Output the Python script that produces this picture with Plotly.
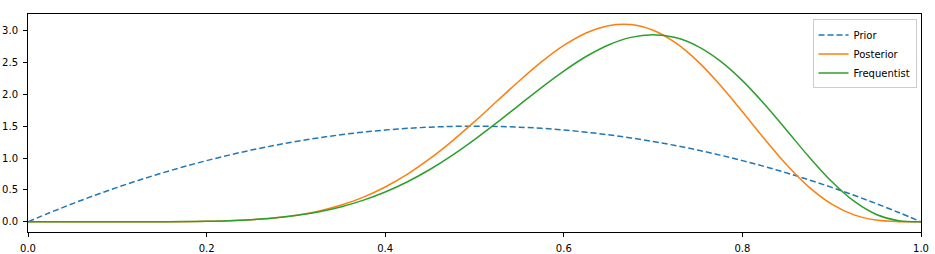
import plotly.graph_objects as go

x = [0.0, 0.025, 0.05, 0.075, 0.1, 0.125, 0.15, 0.175, 0.2, 0.225, 0.25, 0.275, 0.3, 0.325,
     0.35, 0.375, 0.4, 0.425, 0.45, 0.475, 0.5, 0.525, 0.55, 0.575, 0.6, 0.625, 0.65, 0.675,
     0.7, 0.725, 0.75, 0.775, 0.8, 0.825, 0.85, 0.875, 0.9, 0.925, 0.95, 0.975, 1.0]

prior = [0.0, 0.14625, 0.285, 0.41625, 0.54, 0.65625, 0.765, 0.86625, 0.96, 1.04625, 1.125,
         1.19625, 1.26, 1.31625, 1.365, 1.40625, 1.44, 1.46625, 1.485, 1.49625, 1.5,
         1.49625, 1.485, 1.46625, 1.44, 1.40625, 1.365, 1.31625, 1.26, 1.19625, 1.125,
         1.04625, 0.96, 0.86625, 0.765, 0.65625, 0.54, 0.41625, 0.285, 0.14625, 0.0]

posterior = [0.0, 0.0, 0.0, 0.0, 0.00004, 0.0002, 0.0009, 0.0026, 0.0068, 0.0153, 0.0311,
             0.0582, 0.1014, 0.1663, 0.2587, 0.3840, 0.5466, 0.7487, 0.9902, 1.2669, 1.5710,
             1.8906, 2.2095, 2.5086, 2.7669, 2.9629, 3.0770, 3.0940, 3.0048, 2.8092, 2.5165,
             2.1463, 1.7274, 1.2952, 0.8877, 0.5398, 0.2770, 0.1091, 0.0267, 0.0021, 0.0]

frequentist = [0.0, 0.0, 0.0, 0.00001, 0.0001, 0.0004, 0.0014, 0.0037, 0.0087, 0.0179,
               0.0340, 0.0598, 0.0990, 0.1555, 0.2332, 0.3361, 0.4671, 0.6285, 0.8206,
               1.0421, 1.2891, 1.5552, 1.8312, 2.1058, 2.3649, 2.5932, 2.7744, 2.8930,
               2.9352, 2.8903, 2.7530, 2.5249, 2.2146, 1.8401, 1.4282, 1.0124, 0.6314,
               0.3227, 0.1152, 0.0173, 0.0]

x_ticks = [0.0, 0.2, 0.4, 0.6, 0.8, 1.0]
x_tick_labels = ["0.0", "0.2", "0.4", "0.6", "0.8", "1.0"]
y_ticks = [0.0, 0.5, 1.0, 1.5, 2.0, 2.5, 3.0]
y_tick_labels = ["0.0", "0.5", "1.0", "1.5", "2.0", "2.5", "3.0"]

fig = go.Figure()
fig.add_trace(go.Scatter(x=x, y=prior, name="Prior", mode="lines",
                         line=dict(color="#1f77b4", width=1.5, dash="6px,3px", shape="spline")))
fig.add_trace(go.Scatter(x=x, y=posterior, name="Posterior", mode="lines",
                         line=dict(color="#ff7f0e", width=1.5, shape="spline")))
fig.add_trace(go.Scatter(x=x, y=frequentist, name="Frequentist", mode="lines",
                         line=dict(color="#2ca02c", width=1.5, shape="spline")))

axis_common = dict(showgrid=False, zeroline=False, showline=True, linecolor="black",
                   linewidth=1, mirror=True, ticks="outside", ticklen=4, tickwidth=1,
                   tickcolor="black", automargin=False, ticklabelstandoff=3,
                   tickfont=dict(family="DejaVu Sans", size=10, color="black"))

fig.update_xaxes(range=[0, 1], tickvals=x_ticks, ticktext=x_tick_labels, **axis_common)
fig.update_yaxes(range=[-0.16, 3.26], tickvals=y_ticks, ticktext=y_tick_labels, **axis_common)

fig.update_layout(
    width=935, height=254,
    margin=dict(l=28, r=14, t=14, b=22),
    plot_bgcolor="white", paper_bgcolor="white",
    font=dict(family="DejaVu Sans", size=10, color="black"),
    legend=dict(x=0.995, y=0.975, xanchor="right", yanchor="top",
                bordercolor="#cccccc", borderwidth=1, bgcolor="rgba(255,255,255,0.8)",
                font=dict(size=10), tracegroupgap=0, itemwidth=30),
    showlegend=True,
)

fig.write_html("out.html")
